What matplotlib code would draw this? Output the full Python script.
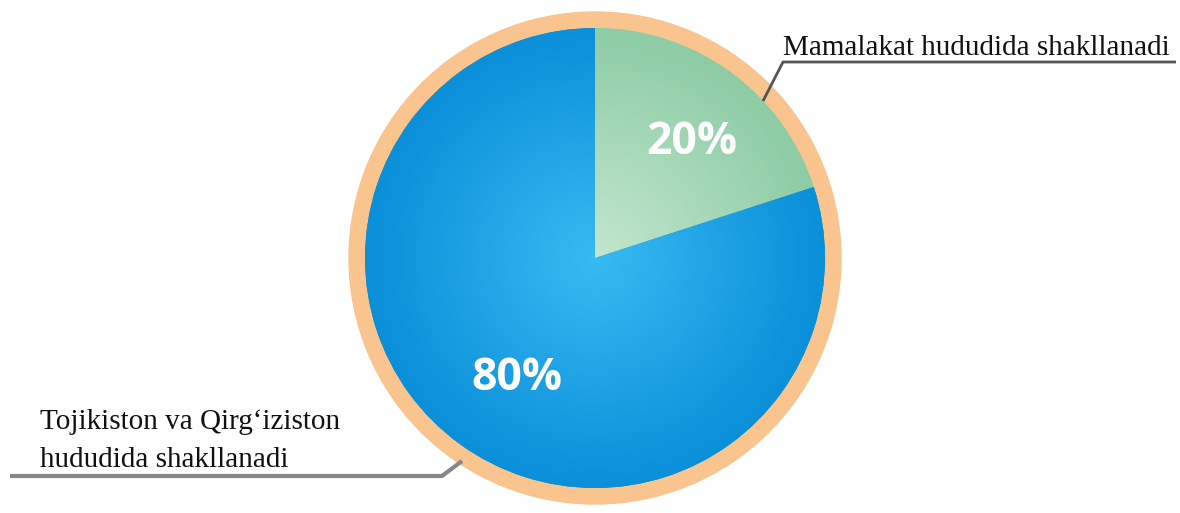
import numpy as np
import matplotlib
matplotlib.use('Agg')
import matplotlib.pyplot as plt
from matplotlib.colors import LinearSegmentedColormap
from matplotlib.patches import Circle

labels = ['Mamalakat hududida shakllanadi', 'Tojikiston va Qirg\u2018iziston\nhududida shakllanadi']
values = [20, 80]
pct_text = ['20%', '80%']
colors_in = ['#c3e6cf', '#38baf2']
colors_out = ['#8dcca5', '#0a8fd9']

W, H = 1180, 513
cx, cy = 595, 255
r_in, r_out = 230, 246

fig = plt.figure(figsize=(W / 100, H / 100), dpi=100)
ax = fig.add_axes([0, 0, 1, 1])

# peach ring behind the pie
ax.add_patch(Circle((cx, cy), r_out, color='#f9c48e', zorder=0))

wedges, _ = ax.pie(values, startangle=90, counterclock=False,
                   center=(cx, cy), radius=r_in,
                   colors=colors_out, wedgeprops=dict(linewidth=0))

# radial gradient inside each wedge
xx, yy = np.meshgrid(np.linspace(cx - r_in, cx + r_in, 400),
                     np.linspace(cy - r_in, cy + r_in, 400))
dist = np.hypot(xx - cx, yy - cy) / r_in
for w, c0, c1 in zip(wedges, colors_in, colors_out):
    cmap = LinearSegmentedColormap.from_list('g', [c0, c1])
    im = ax.imshow(dist, cmap=cmap, vmin=0, vmax=1, origin='lower',
                   extent=(cx - r_in, cx + r_in, cy - r_in, cy + r_in),
                   zorder=2, interpolation='bilinear')
    im.set_clip_path(w)

# percentage labels
ax.text(692, H - 143, pct_text[0], color='white', fontsize=32, fontweight='bold',
        family='Open Sans', ha='center', va='center', zorder=5)
ax.text(517, H - 378, pct_text[1], color='white', fontsize=32, fontweight='bold',
        family='Open Sans', ha='center', va='center', zorder=5)

# leader lines
ax.plot([763, 783, 1176], [H - 101, H - 62, H - 62], color='#555555', lw=2, zorder=6,
        solid_capstyle='butt')
ax.plot([10, 442, 462], [H - 476, H - 476, H - 461], color='#888888', lw=3, zorder=6,
        solid_capstyle='butt')

ax.text(783, H - 55, labels[0], fontsize=21, family='Liberation Serif',
        ha='left', va='baseline', color='#111111', zorder=6)
for i, line in enumerate(labels[1].split('\n')):
    ax.text(40, H - 429 - 38 * i, line, fontsize=21, family='Liberation Serif',
            ha='left', va='baseline', color='#111111', zorder=6)

ax.set_xlim(0, W)
ax.set_ylim(0, H)
ax.set_aspect('auto')
ax.axis('off')

fig.savefig('out.png', dpi=100)
